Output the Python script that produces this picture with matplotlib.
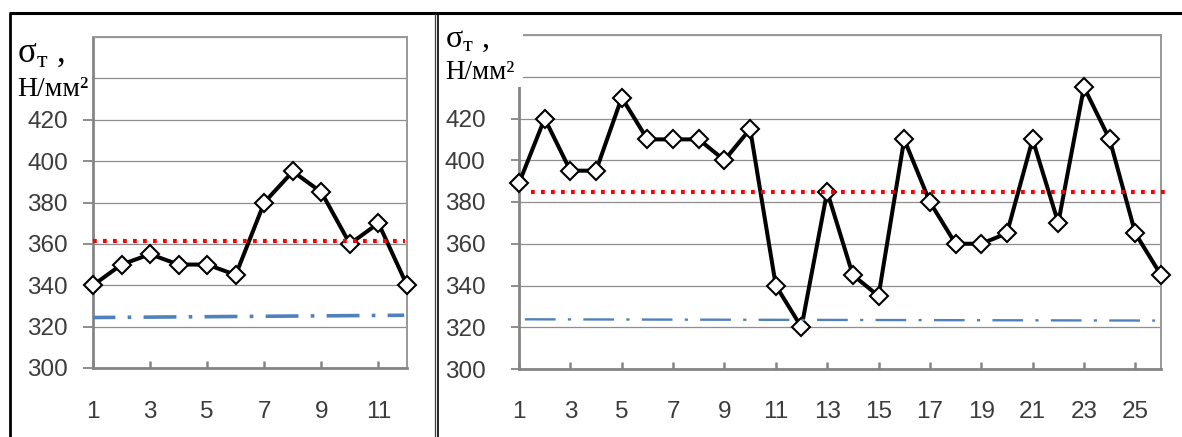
import matplotlib
matplotlib.use("Agg")
import matplotlib.pyplot as plt
from matplotlib.patches import Rectangle
from matplotlib.lines import Line2D

plt.rcParams["mathtext.fontset"] = "custom"
plt.rcParams["mathtext.rm"] = "Liberation Serif"
plt.rcParams["mathtext.it"] = "Liberation Serif:italic"
plt.rcParams["mathtext.bf"] = "Liberation Serif:bold"

# ---------------- data ----------------
left_x = list(range(1, 13))
left_y = [340, 350, 355, 350, 350, 345, 380, 395, 385, 360, 370, 340]
left_mean_x = [1.0, 11.93]
left_mean_y = [361.5, 361.5]
left_min_x = [1.0, 11.9]
left_min_y = [324.4, 325.5]

right_x = list(range(1, 27))
right_y = [389, 420, 395, 395, 430, 410, 410, 410, 400, 415, 340, 320, 385,
           345, 335, 410, 380, 360, 360, 365, 410, 370, 435, 410, 365, 345]
right_mean_x = [1.47, 26.35]
right_mean_y = [385, 385]
right_min_x = [1.23, 25.77]
right_min_y = [323.8, 323.2]

y_ticks = [300, 320, 340, 360, 380, 400, 420, 440, 460]
y_tick_labels = ["300", "320", "340", "360", "380", "400", "420", "", ""]
y_label_line1 = r"σ$_{\mathrm{т}}$ ,"
y_label_line2 = "Н/мм²"

# ---------------- figure ----------------
W, H = 1182, 437
fig = plt.figure(figsize=(W / 100, H / 100), dpi=100)
fig.patch.set_facecolor("white")


def fx(x):
    return x / W


def fy(y):
    return 1 - y / H


TICK_FONT = "Liberation Sans"
SERIF = "Liberation Serif"
GRID_C = "#8e8e8e"
AXIS_C = "#858585"
LABEL_C = "#3c3c3c"
TICK_SIZE = 17.5


def make_axes(x0, x1, ytop, ybot, xs, ys, mx, my, lx, ly, n,
              ypad, xpad, ylen, blue_lw, blue_ls, red_lw):
    ax = fig.add_axes([fx(x0), fy(ybot), (x1 - x0) / W, (ybot - ytop) / H])
    ax.set_xlim(1, n)
    ax.set_ylim(300, 460)
    ax.set_yticks(y_ticks, labels=y_tick_labels)
    ax.set_xticks(list(range(1, n + 1, 2)))
    ax.grid(axis="y", color=GRID_C, lw=0.9)
    ax.set_axisbelow(True)
    for s in ["left", "bottom"]:
        ax.spines[s].set_color(AXIS_C)
        ax.spines[s].set_linewidth(2.0)
    for s in ["top", "right"]:
        ax.spines[s].set_color("#989898")
        ax.spines[s].set_linewidth(1.4)
    ax.tick_params(axis="y", direction="out", length=ylen, width=1.3,
                   color=AXIS_C, pad=ypad, labelsize=TICK_SIZE, labelcolor=LABEL_C)
    ax.tick_params(axis="x", direction="in", length=5, width=1.8,
                   color=AXIS_C, pad=xpad, labelsize=TICK_SIZE, labelcolor=LABEL_C)
    for lab in ax.get_xticklabels() + ax.get_yticklabels():
        lab.set_fontfamily(TICK_FONT)

    ax.plot(xs, ys, color="black", lw=2.9, marker="D", ms=9.6,
            mfc="white", mec="black", mew=1.5, zorder=4, clip_on=False)
    ax.plot(mx, my, color="#ff0000", lw=red_lw, ls=(0, (0.9, 1.5)),
            zorder=5, clip_on=False)
    ax.plot(lx, ly, color="#4f81bd", lw=blue_lw, ls=blue_ls,
            zorder=5, clip_on=False)
    return ax


ax1 = make_axes(93, 407, 37, 368, left_x, left_y, left_mean_x, left_mean_y,
                left_min_x, left_min_y, 12, ypad=11, xpad=24, ylen=7,
                blue_lw=2.6, blue_ls=(2.9, (9.1, 3.4, 1.0, 3.4)), red_lw=3.0)
ax2 = make_axes(519, 1161, 35, 369, right_x, right_y, right_mean_x, right_mean_y,
                right_min_x, right_min_y, 26, ypad=18, xpad=23, ylen=6,
                blue_lw=1.7, blue_ls=(0, (13.0, 5.2, 1.35, 5.2)), red_lw=3.0)

# white boxes over the top of the value axes (label area)
for (bx0, by0, bx1, by1) in [(12, 15, 92, 100), (440, 15, 523, 87)]:
    fig.add_artist(Rectangle((fx(bx0), fy(by1)), (bx1 - bx0) / W, (by1 - by0) / H,
                             transform=fig.transFigure, facecolor="white",
                             edgecolor="none", zorder=10))


# axis title text (two lines)
def label(x, base1, base2, s1, s2):
    kw = dict(family=SERIF, ha="left", va="baseline", zorder=11, color="black")
    fig.text(fx(x), fy(base1), y_label_line1, fontsize=s1, **kw)
    fig.text(fx(x), fy(base2), y_label_line2, fontsize=s2, **kw)


label(17, 62, 96, 25, 20)
label(445, 47, 79, 23, 19.5)

# black outer frames
frame_lines = [
    ([fx(9), fx(1182)], [fy(13.3), fy(13.3)], "black", 2.2),
    ([fx(10), fx(10)], [fy(13), fy(437)], "black", 2.0),
    ([fx(434.7), fx(434.7)], [fy(13), fy(437)], "#3a3a3a", 0.9),
    ([fx(438.3), fx(438.3)], [fy(13), fy(437)], "black", 1.2),
]
for xs, ys, c, lw in frame_lines:
    fig.add_artist(Line2D(xs, ys, color=c, lw=lw, transform=fig.transFigure,
                          zorder=12, solid_capstyle="butt"))

fig.savefig("out.png", dpi=100, facecolor="white")
